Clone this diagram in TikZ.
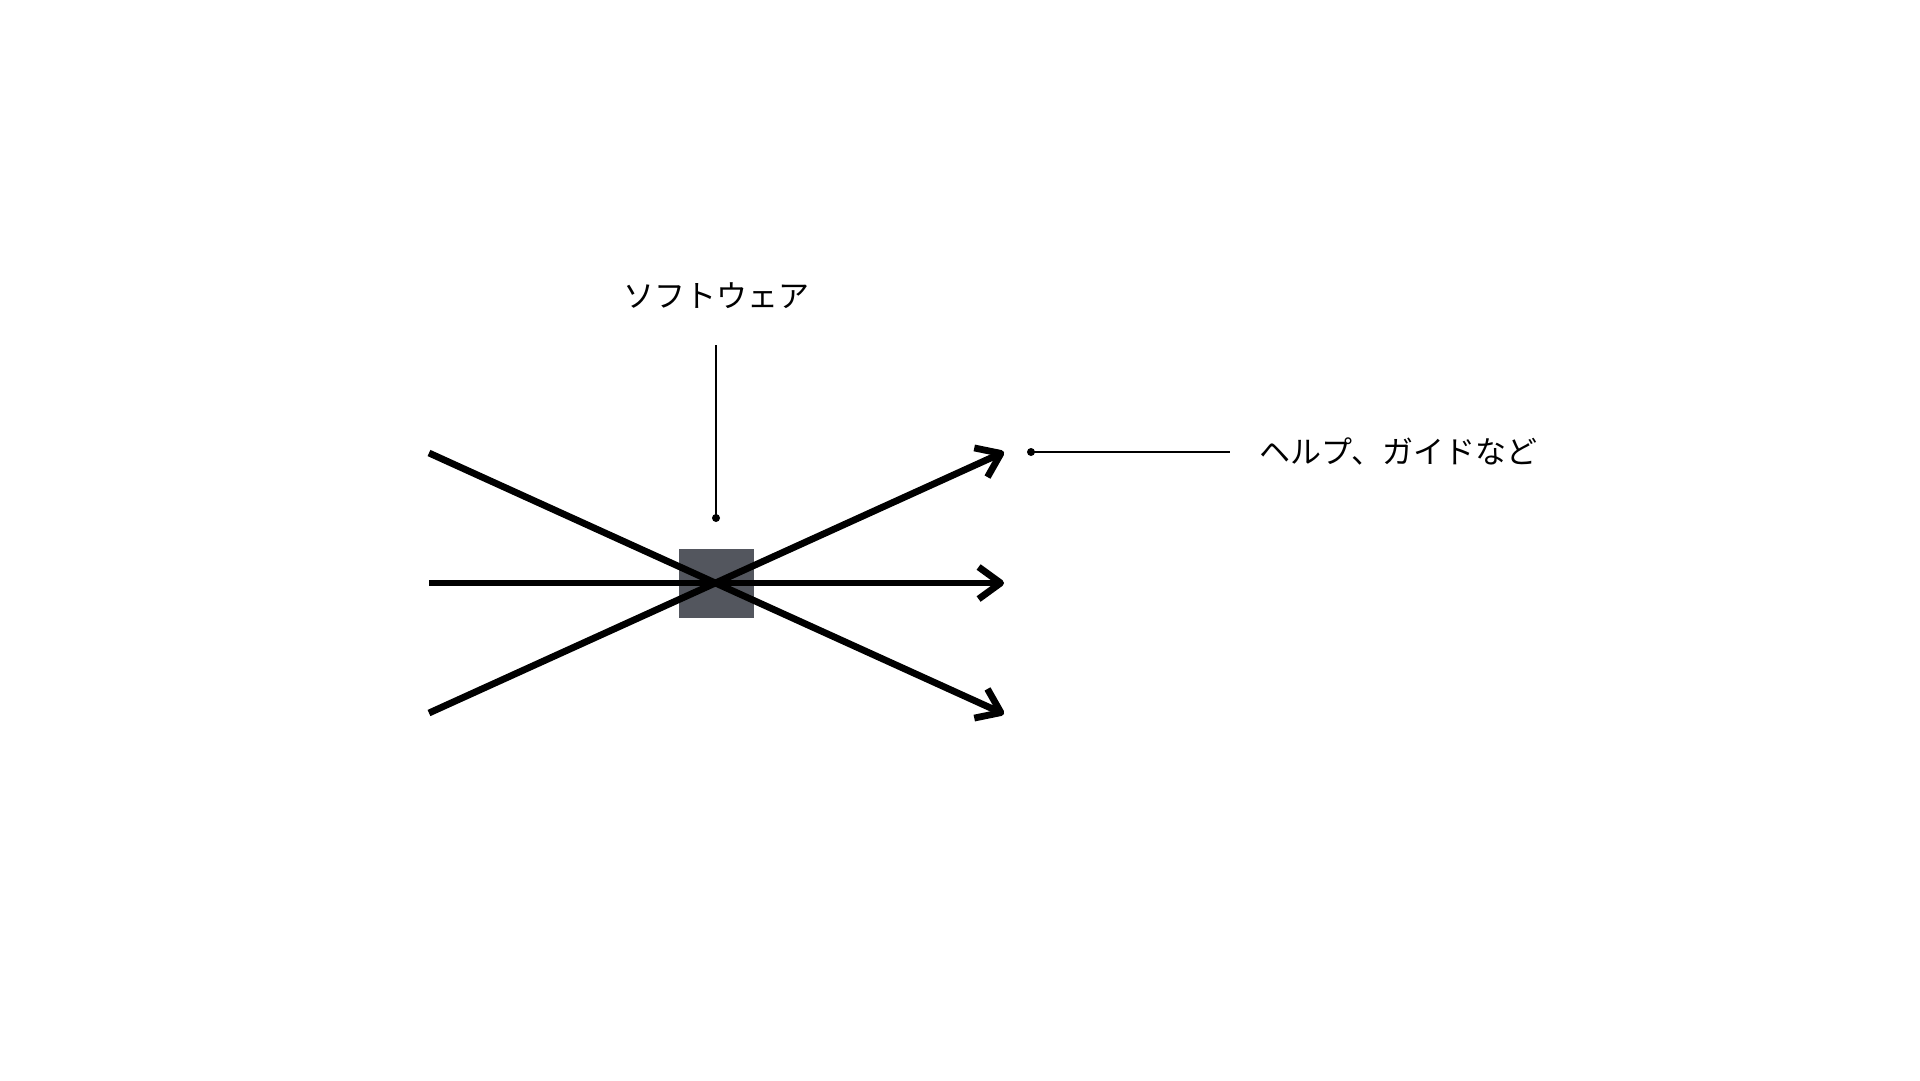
\documentclass[tikz,border=0pt]{standalone}
\usepackage{fontspec}
\newfontfamily\jpfont{Noto Sans CJK JP}
\usetikzlibrary{arrows.meta}
\begin{document}
\begin{tikzpicture}[x=1pt,y=-1pt,
  flow/.style={line width=6.8pt,-{Straight Barb[length=22pt,width=32pt,line join=round]}},
  lead/.style={line width=1.8pt},
  label/.style={font=\jpfont\fontsize{31}{36}\selectfont,inner sep=0pt},
  dotc/.style={circle,fill=black,inner sep=0pt,minimum size=8pt}]
\useasboundingbox (0,0) rectangle (1920,1080);
\node[fill={rgb,255:red,83;green,86;blue,94},minimum width=75pt,minimum height=69pt,inner sep=0pt] (sw) at (716,583) {};
\coordinate (tl) at (429,453);
\coordinate (ml) at (429,583);
\coordinate (bl) at (429,713);
\coordinate (tr) at (1004,452);
\coordinate (mr) at (1004,583);
\coordinate (br) at (1004,714);
\draw[flow] (tl) -- (br);
\draw[flow] (ml) -- (mr);
\draw[flow] (bl) -- (tr);
\node[label] (t1) at (716,296) {ソフトウェア};
\coordinate (v1) at (716,345);
\node[dotc] (d1) at (716,518) {};
\draw[lead] (v1) -- (d1.center);
\node[dotc] (d2) at (1031,452) {};
\coordinate (h2) at (1230,452);
\draw[lead] (d2.center) -- (h2);
\node[label,anchor=west] (t2) at (1259,451) {ヘルプ、ガイドなど};
\end{tikzpicture}
\end{document}
